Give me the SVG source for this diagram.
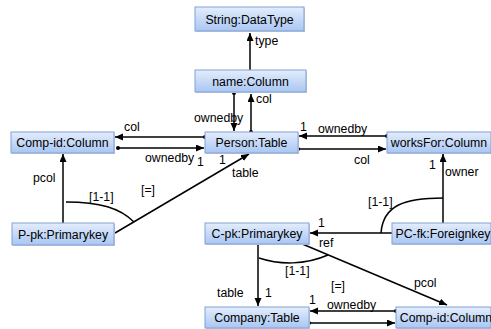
<svg xmlns="http://www.w3.org/2000/svg" width="491" height="329" viewBox="0 0 491 329">
  <defs>
    <linearGradient id="boxFill" x1="0" y1="0" x2="0" y2="1">
      <stop offset="0" stop-color="#e4edfc"/>
      <stop offset="1" stop-color="#a9c6f2"/>
    </linearGradient>
    <marker id="arrow" markerUnits="userSpaceOnUse" markerWidth="9" markerHeight="8" refX="8" refY="3.5" orient="auto">
      <path d="M0,0 L8,3.5 L0,7 z" fill="#000"/>
    </marker>
  </defs>
  <style>
    .box { fill: url(#boxFill); stroke: #7ea2d8; stroke-width: 1; }
    .shadow { fill: #cfcfcf; }
    .ntext { font-family: "Liberation Sans", Arial, sans-serif; font-size: 12.3px; fill: #000; text-anchor: middle; }
    .lbl { font-family: "Liberation Sans", Arial, sans-serif; font-size: 12.3px; fill: #000; }
    .edge { stroke: #000; stroke-width: 1.5; fill: none; }
    .arr { marker-end: url(#arrow); }
    .dot { fill: #000; }
  </style>
  <rect width="491" height="329" fill="#fff"/>

  <g id="connectors">
    <!-- name:Column type String:DataType -->
    <line class="edge arr" x1="250" y1="70" x2="250" y2="33"/>
    <text class="lbl" x="255" y="45">type</text>

    <!-- name:Column / Person:Table -->
    <line class="edge arr" x1="234" y1="93" x2="234" y2="131"/>
    <circle class="dot" cx="234" cy="93" r="2"/>
    <line class="edge arr" x1="251" y1="132" x2="251" y2="94"/>
    <circle class="dot" cx="251" cy="132" r="2"/>
    <text class="lbl" x="194" y="122">ownedby</text>
    <text class="lbl" x="256" y="103">col</text>

    <!-- Comp-id:Column / Person:Table -->
    <line class="edge arr" x1="205" y1="137" x2="115" y2="137"/>
    <circle class="dot" cx="205" cy="137" r="2"/>
    <line class="edge arr" x1="118" y1="148" x2="204" y2="148"/>
    <circle class="dot" cx="118" cy="148" r="2"/>
    <text class="lbl" x="124" y="131">col</text>
    <text class="lbl" x="145" y="162">ownedby</text>
    <text class="lbl" x="197" y="166">1</text>

    <!-- Person:Table / worksFor:Column -->
    <line class="edge arr" x1="387" y1="136" x2="299" y2="136"/>
    <circle class="dot" cx="387" cy="136" r="2"/>
    <line class="edge arr" x1="298" y1="149" x2="386" y2="149"/>
    <circle class="dot" cx="298" cy="149" r="2"/>
    <text class="lbl" x="300" y="131">1</text>
    <text class="lbl" x="318" y="133">ownedby</text>
    <text class="lbl" x="354" y="164">col</text>

    <!-- P-pk:Primarykey pcol / table -->
    <line class="edge arr" x1="63" y1="223" x2="63" y2="154"/>
    <text class="lbl" x="33" y="182">pcol</text>
    <line class="edge arr" x1="115" y1="233" x2="249" y2="154"/>
    <text class="lbl" x="219" y="164">1</text>
    <text class="lbl" x="232" y="177">table</text>
    <path class="edge" d="M66,202 C100,202 120,208 134,222"/>
    <text class="lbl" x="89" y="201">[1-1]</text>
    <text class="lbl" x="141" y="194">[=]</text>

    <!-- PC-fk:Foreignkey owner / ref -->
    <line class="edge arr" x1="443" y1="223" x2="443" y2="154"/>
    <text class="lbl" x="429" y="169">1</text>
    <text class="lbl" x="445" y="176">owner</text>
    <line class="edge arr" x1="392" y1="233" x2="310" y2="233"/>
    <text class="lbl" x="318" y="227">1</text>
    <text class="lbl" x="319" y="247">ref</text>
    <path class="edge" d="M443,198 C405,198 383,205 381,233"/>
    <text class="lbl" x="368" y="206">[1-1]</text>

    <!-- C-pk:Primarykey table / pcol -->
    <line class="edge arr" x1="258" y1="244" x2="258" y2="306"/>
    <text class="lbl" x="217" y="297">table</text>
    <text class="lbl" x="265" y="297">1</text>
    <line class="edge arr" x1="300" y1="243" x2="447" y2="305"/>
    <text class="lbl" x="414" y="287">pcol</text>
    <path class="edge" d="M259,258 C280,265 305,265 328,255"/>
    <text class="lbl" x="285" y="275">[1-1]</text>
    <text class="lbl" x="331" y="290">[=]</text>

    <!-- Company:Table / Comp-id:Column -->
    <line class="edge arr" x1="396" y1="311" x2="310" y2="311"/>
    <circle class="dot" cx="396" cy="311" r="2"/>
    <line class="edge arr" x1="309" y1="323" x2="395" y2="323"/>
    <circle class="dot" cx="309" cy="323" r="2"/>
    <text class="lbl" x="309" y="304">1</text>
    <text class="lbl" x="327" y="309">ownedby</text>
  </g>

  <g id="string-datatype">
    <rect class="shadow" x="196" y="8" width="109" height="24"/>
    <rect class="box" x="195" y="7" width="109" height="24"/>
    <text class="ntext" x="249.5" y="23.5">String:DataType</text>
  </g>
  <g id="name-column">
    <rect class="shadow" x="196" y="71" width="111" height="22"/>
    <rect class="box" x="195" y="70" width="111" height="22"/>
    <text class="ntext" x="250.5" y="85.5">name:Column</text>
  </g>
  <g id="person-table">
    <rect class="shadow" x="206" y="133" width="93" height="21"/>
    <rect class="box" x="205" y="132" width="93" height="21"/>
    <text class="ntext" x="251.5" y="147">Person:Table</text>
  </g>
  <g id="comp-id-column-left">
    <rect class="shadow" x="12" y="133" width="103" height="21"/>
    <rect class="box" x="11" y="132" width="103" height="21"/>
    <text class="ntext" x="62.5" y="147">Comp-id:Column</text>
  </g>
  <g id="worksfor-column">
    <rect class="shadow" x="388" y="133" width="104" height="21"/>
    <rect class="box" x="387" y="132" width="104" height="21"/>
    <text class="ntext" x="439" y="147">worksFor:Column</text>
  </g>
  <g id="p-pk-primarykey">
    <rect class="shadow" x="13" y="224" width="102" height="22"/>
    <rect class="box" x="12" y="223" width="102" height="22"/>
    <text class="ntext" x="63" y="238.5">P-pk:Primarykey</text>
  </g>
  <g id="c-pk-primarykey">
    <rect class="shadow" x="206" y="224" width="104" height="21"/>
    <rect class="box" x="205" y="223" width="104" height="21"/>
    <text class="ntext" x="257" y="238">C-pk:Primarykey</text>
  </g>
  <g id="pc-fk-foreignkey">
    <rect class="shadow" x="393" y="224" width="99" height="21"/>
    <rect class="box" x="392" y="223" width="99" height="21"/>
    <text class="ntext" x="443" y="238">PC-fk:Foreignkey</text>
  </g>
  <g id="company-table">
    <rect class="shadow" x="206" y="308" width="104" height="21"/>
    <rect class="box" x="205" y="307" width="104" height="21"/>
    <text class="ntext" x="257" y="322">Company:Table</text>
  </g>
  <g id="comp-id-column-right">
    <rect class="shadow" x="397" y="308" width="95" height="21"/>
    <rect class="box" x="396" y="307" width="95" height="21"/>
    <text class="ntext" x="446" y="322">Comp-id:Column</text>
  </g>
</svg>
